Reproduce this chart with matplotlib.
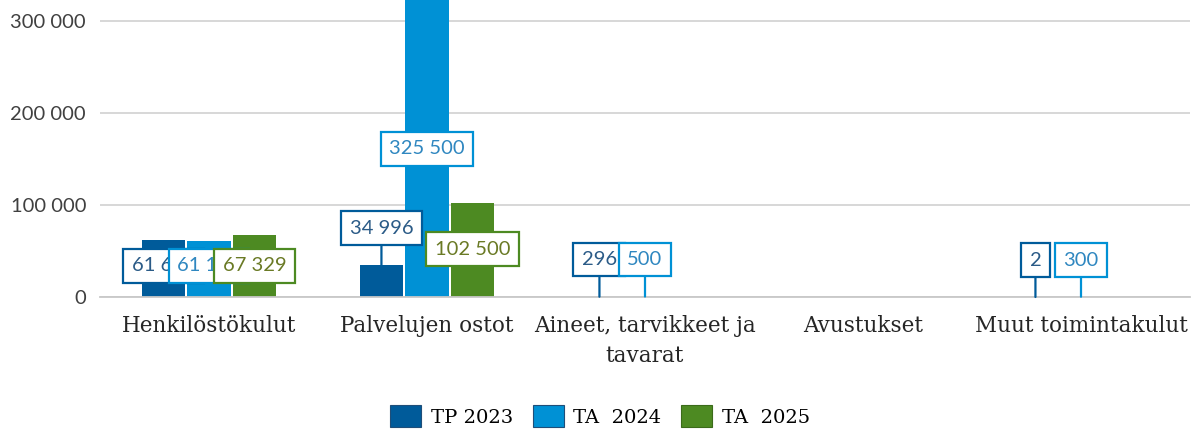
import matplotlib
matplotlib.use("Agg")
import matplotlib.pyplot as plt
from matplotlib.patches import Patch
from matplotlib.ticker import FuncFormatter
import numpy as np

# Budget data (euros)
categories = ["Henkilöstökulut", "Palvelujen ostot", "Aineet, tarvikkeet ja\ntavarat",
              "Avustukset", "Muut toimintakulut"]
series_names = ["TP 2023", "TA  2024", "TA  2025"]
tp_2023 = [61645, 34996, 296, 0, 2]
ta_2024 = [61120, 325500, 500, 0, 300]
ta_2025 = [67329, 102500, 0, 0, 0]
yticks = [0, 100000, 200000, 300000]

series = [tp_2023, ta_2024, ta_2025]
bar_colors = ["#005b9a", "#0091d5", "#4d8a22"]
text_colors = ["#2b5b87", "#2f87c0", "#6a7a25"]

# Vertical centre of each value box (data units); None = no box
label_y = [
    [33700, 75000, 40800, None, 40200],
    [33700, 160900, 40800, None, 40200],
    [33700, 52000, None, None, None],
]

fig = plt.figure(figsize=(11.93, 4.32), dpi=100)
ax = fig.add_axes([100 / 1193, 135 / 432, 1090 / 1193, 297 / 432])

x = np.arange(len(categories))
width = 0.2
step = 0.209

for i, vals in enumerate(series):
    pos = x + (i - 1) * step
    ax.bar(pos, vals, width=width, color=bar_colors[i], zorder=2)

# Value boxes; a leader line joins a box to its bar when the box sits above it
for i, vals in enumerate(series):
    pos = x + (i - 1) * step
    for j, v in enumerate(vals):
        ly = label_y[i][j]
        if ly is None:
            continue
        txt = f"{v:,}".replace(",", " ")
        arrow = None
        if ly > v:
            arrow = dict(arrowstyle="-", color=bar_colors[i], lw=1.6,
                         shrinkA=0, shrinkB=0)
        ax.annotate(
            txt, xy=(pos[j], min(v, ly)), xytext=(pos[j], ly),
            ha="center", va="center", fontsize=14.5, family="Lato",
            color=text_colors[i], zorder=5 + i, annotation_clip=False,
            bbox=dict(boxstyle="square,pad=0.42", fc="white",
                      ec=bar_colors[i], lw=1.6),
            arrowprops=arrow,
        )

ax.set_xlim(-0.5, len(categories) - 0.5)
ax.set_ylim(0, 297 / 92 * 100000)
ax.set_yticks(yticks)
ax.yaxis.set_major_formatter(FuncFormatter(lambda v, p: f"{int(v):,}".replace(",", " ")))
ax.grid(axis="y", color="#d4d4d4", lw=1.3, zorder=0)
ax.set_axisbelow(True)
for s in ["top", "right", "left"]:
    ax.spines[s].set_visible(False)
ax.spines["bottom"].set_color("#c8c8c8")
ax.spines["bottom"].set_linewidth(1.3)
ax.tick_params(axis="y", length=0, pad=10, labelsize=14.5, labelcolor="#404040")
ax.tick_params(axis="x", length=0, pad=13, labelsize=15.5, labelcolor="#262626")
for t in ax.get_yticklabels():
    t.set_family("Lato")
ax.set_xticks(x)
ax.set_xticklabels(categories, family="DejaVu Serif", linespacing=1.45)

handles = [Patch(facecolor=c, edgecolor="#1f4e79" if k < 2 else "#3b6b1a", lw=0.8)
           for k, c in enumerate(bar_colors)]
fig.legend(handles, series_names, loc="center", bbox_to_anchor=(0.503, 0.037),
           ncol=3, frameon=False, prop={"family": "DejaVu Serif", "size": 14},
           handlelength=1.6, handleheight=1.3, handletextpad=0.5, columnspacing=1.0)

fig.savefig("out.png", dpi=100)
